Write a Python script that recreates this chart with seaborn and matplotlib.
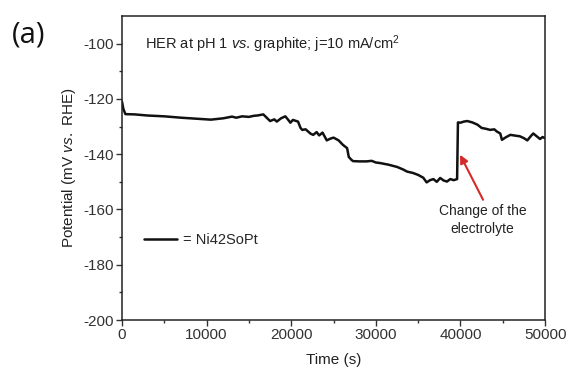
import matplotlib
matplotlib.use("Agg")
import matplotlib.pyplot as plt
import seaborn as sns
import pandas as pd

sns.set_theme(style="ticks")
plt.rcParams['font.family'] = ['Liberation Sans', 'DejaVu Sans']
plt.rcParams['mathtext.fontset'] = 'custom'
plt.rcParams['mathtext.rm'] = 'Liberation Sans'
plt.rcParams['mathtext.it'] = 'Liberation Sans:italic'
plt.rcParams['axes.unicode_minus'] = False

# Data
time_s = [0, 150, 400, 1500, 3000, 5000, 7000, 9000, 10500, 12000, 13000, 13500, 14200, 15000,
          15600, 16000, 16700, 17100, 17500, 18000, 18300, 18800, 19300, 19600, 19900, 20200, 20800,
          21100, 21300, 21700, 22000, 22300, 22600, 23000, 23300, 23700, 24200, 24600, 25000, 25600,
          26100, 26600, 26800, 27100, 27300, 28000, 28900, 29500, 30000, 30500, 31000, 31500,
          32000, 32500, 33200, 33700, 34400, 35000, 35600, 36000, 36400, 36800, 37200,
          37600, 38000, 38400, 38800, 39200, 39600, 39700, 40000, 40400, 40800, 41400,
          42000, 42500, 43000, 43500, 44000, 44300, 44700, 44900, 45400, 45900,
          46500, 47000, 47500, 47900, 48300, 48600, 49000, 49400, 49700, 50000]
potential_mv = [-121.0, -123.5, -125.5, -125.6, -126.0, -126.3, -126.8, -127.2, -127.5, -127.0, -126.4, -126.8, -126.3, -126.5,
                -126.1, -126.0, -125.6, -126.8, -128.0, -127.4, -128.2, -127.0, -126.3, -127.4, -128.6, -127.6, -128.2,
                -130.5, -131.2, -131.0, -131.8, -132.6, -133.0, -132.0, -133.2, -132.2, -135.0, -134.4, -134.0, -135.0,
                -136.6, -137.8, -141.0, -142.0, -142.5, -142.6, -142.6, -142.4, -143.0, -143.2, -143.5, -143.8,
                -144.2, -144.6, -145.5, -146.3, -146.8, -147.5, -148.5, -150.2, -149.4, -149.0, -150.0,
                -148.6, -149.5, -149.9, -149.0, -149.4, -149.0, -128.5, -128.6, -128.2, -128.0, -128.5,
                -129.3, -130.5, -130.8, -131.2, -131.0, -131.8, -132.5, -134.8, -133.8, -133.0,
                -133.3, -133.5, -134.2, -135.0, -133.5, -132.5, -133.5, -134.5, -133.8, -134.2]

df = pd.DataFrame({"Time (s)": time_s, "Potential": potential_mv})

fig = plt.figure(figsize=(5.69, 3.81), dpi=100)
ax = fig.add_axes([0.2144, 0.160, 0.7436, 0.798])

sns.lineplot(data=df, x="Time (s)", y="Potential", ax=ax, color="#111111",
             linewidth=1.8, label="= Ni42SoPt")

ax.set_xlim(0, 50000)
ax.set_ylim(-200, -90)
ax.set_xticks([0, 10000, 20000, 30000, 40000, 50000])
ax.set_xticks([5000, 15000, 25000, 35000, 45000], minor=True)
ax.set_yticks([-200, -180, -160, -140, -120, -100])
ax.set_yticks([-190, -170, -150, -130, -110], minor=True)
ax.tick_params(axis="both", which="major", direction="out", length=4, width=1,
               labelsize=11, colors="#333333", pad=2)
ax.tick_params(axis="both", which="minor", direction="out", length=2.5, width=1, colors="#333333")
for s in ax.spines.values():
    s.set_linewidth(1.1)
    s.set_color("#222222")

ax.set_xlabel("Time (s)", fontsize=11, color="#222222", labelpad=8)
ax.set_ylabel("Potential (mV $\\it{vs.}$ RHE)", fontsize=11, color="#222222", labelpad=4)

ax.text(0.054, 0.908, "HER at pH 1 $\\it{vs}$. graphite; j=10 mA/cm$^2$",
        transform=ax.transAxes, fontsize=10.5, color="#222222", va="center", ha="left")

ax.legend(loc="center left", bbox_to_anchor=(0.02, 0.262), frameon=False,
          handlelength=2.3, handletextpad=0.4, fontsize=10.5)

ax.annotate("", xy=(39950, -140.2), xytext=(42670, -156.5),
            arrowprops=dict(arrowstyle="-|>", color="#d42a2a", lw=1.5,
                            shrinkA=0, shrinkB=0, mutation_scale=12))
ax.text(42600, -163.8, "Change of the\nelectrolyte", ha="center", va="center",
        fontsize=10, color="#222222", linespacing=1.4)

fig.text(0.021, 0.908, "(a)", fontsize=21, family="Open Sans", color="#111111",
         va="center", ha="left")

fig.savefig("out.png", dpi=100)
